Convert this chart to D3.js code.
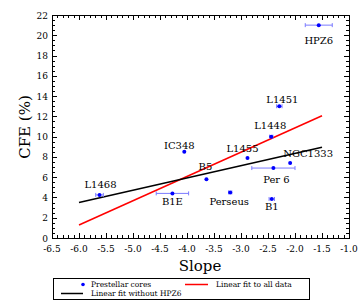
<!DOCTYPE html>
<html><head><meta charset="utf-8">
<script src="https://cdn.jsdelivr.net/npm/d3@7"></script>
<style>body{margin:0;background:#fff}svg{display:block}text{font-family:"DejaVu Serif",serif}</style>
</head><body>
<svg id="c" width="364" height="307"></svg>
<script>
const names = ["HPZ6","L1451","L1448","IC348","L1455","NGC1333","Per 6","B5","B1E","Perseus","L1468","B1"];
const slopes = [-1.56,-2.29,-2.44,-4.05,-2.88,-2.09,-2.40,-3.64,-4.27,-3.20,-5.62,-2.43];
const cfe = [21.0,13.0,10.0,8.5,7.9,7.4,6.9,5.8,4.4,4.5,4.25,3.85];
const slopeErr = [0.25,0.05,0.03,0,0,0,0.4,0,0.3,0.03,0.07,0.05];
// label offsets in px [dx, dy] relative to point (text centre)
const labelOffsets = [[0,15],[3,-7],[-1,-11],[-5,-6],[-5,-9],[18,-9],[3,11],[-1,-13],[0,8],[-1,9],[1,-10],[0,8]];
const fitAllX = [-6.0,-1.5], fitAllY = [1.28,12.06];
const fitNoX = [-6.0,-1.5], fitNoY = [3.5,8.95];
const xTicks = d3.range(-6.5,-0.99,0.5);
const yTicks = d3.range(0,22.1,2);
const legendLabels = ["Prestellar cores","Linear fit to all data","Linear fit without HPZ6"];

const svg = d3.select("#c");
const L=52,R=349,T=15,B=238;
const x = d3.scaleLinear().domain([-6.5,-1.0]).range([L,R]);
const y = d3.scaleLinear().domain([0,22]).range([B,T]);

const g = svg.append("g");
// ticks
const xMinor = d3.range(-6.5,-0.99,0.1), yMinor = d3.range(0,22.01,0.5);
function isMajX(v){return Math.abs(v*2-Math.round(v*2))<1e-6;}
function isMajY(v){return Math.abs(v/2-Math.round(v/2))<1e-6;}
xMinor.forEach(v=>{const len=isMajX(v)?5:3;const px=Math.round(x(v))+0.5;
  g.append("line").attr("x1",px).attr("x2",px).attr("y1",B).attr("y2",B-len).attr("stroke","#000");
  g.append("line").attr("x1",px).attr("x2",px).attr("y1",T).attr("y2",T+len).attr("stroke","#000");});
yMinor.forEach(v=>{const len=isMajY(v)?5:3;const py=Math.round(y(v))+0.5;
  g.append("line").attr("y1",py).attr("y2",py).attr("x1",L).attr("x2",L+len).attr("stroke","#000");
  g.append("line").attr("y1",py).attr("y2",py).attr("x1",R).attr("x2",R-len).attr("stroke","#000");});
g.append("rect").attr("x",L+0.5).attr("y",T+0.5).attr("width",R-L).attr("height",B-T).attr("fill","none").attr("stroke","#000");
// tick labels
xTicks.forEach(v=>g.append("text").attr("x",x(v)).attr("y",B+14).attr("text-anchor","middle").attr("font-size",9).text(v.toFixed(1)));
yTicks.forEach(v=>g.append("text").attr("x",L-4).attr("y",y(v)+3.5).attr("text-anchor","end").attr("font-size",9).text(v));
// axis titles
svg.append("text").attr("x",200).attr("y",271).attr("text-anchor","middle").attr("font-size",15).text("Slope");
svg.append("text").attr("transform","translate(30,127) rotate(-90)").attr("text-anchor","middle").attr("font-size",15).text("CFE (%)");

// fit lines
const line = d3.line().x(d=>x(d[0])).y(d=>y(d[1]));
g.append("path").attr("d",line(fitAllX.map((v,i)=>[v,fitAllY[i]]))).attr("stroke","#ff0000").attr("stroke-width",1.5).attr("fill","none");
g.append("path").attr("d",line(fitNoX.map((v,i)=>[v,fitNoY[i]]))).attr("stroke","#000").attr("stroke-width",1.5).attr("fill","none");

// error bars + points
names.forEach((n,i)=>{
  const px=x(slopes[i]), py=y(cfe[i]);
  if(slopeErr[i]>0){
    const x0=x(slopes[i]-slopeErr[i]), x1=x(slopes[i]+slopeErr[i]);
    g.append("line").attr("x1",x0).attr("x2",x1).attr("y1",py).attr("y2",py).attr("stroke","#7a7aff").attr("stroke-width",1);
    [x0,x1].forEach(xx=>g.append("line").attr("x1",xx).attr("x2",xx).attr("y1",py-2).attr("y2",py+2).attr("stroke","#7a7aff").attr("stroke-width",1));
  }
  g.append("circle").attr("cx",px).attr("cy",py).attr("r",2).attr("fill","#0000ff");
  g.append("text").attr("x",px+labelOffsets[i][0]).attr("y",py+labelOffsets[i][1]+3.5).attr("text-anchor","middle").attr("font-size",10).text(n);
});

// legend
const lg = svg.append("g");
lg.append("rect").attr("x",53.5).attr("y",278.5).attr("width",256).attr("height",21).attr("fill","#fff").attr("stroke","#000");
lg.append("circle").attr("cx",83).attr("cy",284.5).attr("r",1.8).attr("fill","#0000ff");
lg.append("text").attr("x",91).attr("y",287).attr("font-size",7.5).text(legendLabels[0]);
lg.append("line").attr("x1",185).attr("x2",208).attr("y1",284.5).attr("y2",284.5).attr("stroke","#ff0000").attr("stroke-width",1.5);
lg.append("text").attr("x",216).attr("y",287).attr("font-size",7.5).text(legendLabels[1]);
lg.append("line").attr("x1",61).attr("x2",83).attr("y1",293.5).attr("y2",293.5).attr("stroke","#000").attr("stroke-width",1.5);
lg.append("text").attr("x",91).attr("y",296).attr("font-size",7.5).text(legendLabels[2]);
</script>
</body></html>
